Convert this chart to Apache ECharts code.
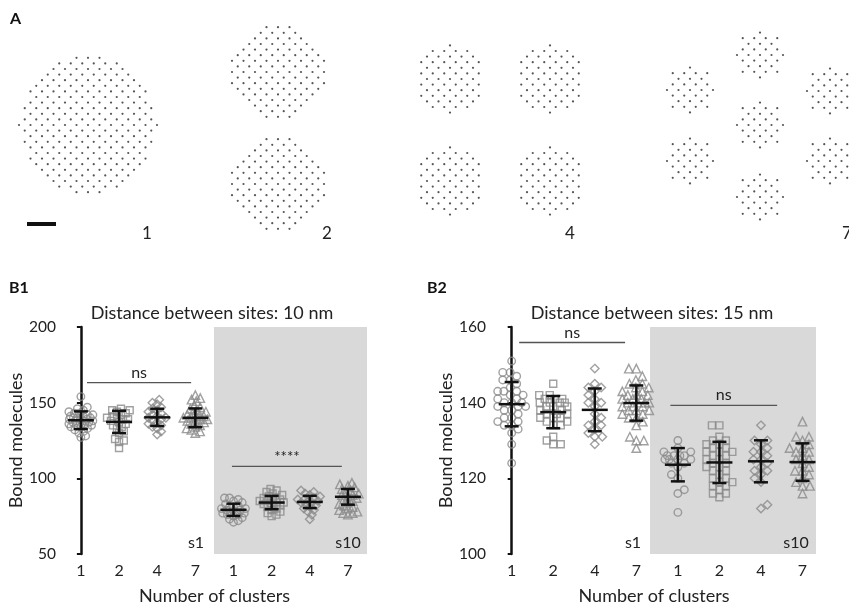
<!DOCTYPE html>
<html><head><meta charset="utf-8">
<script src="https://cdn.jsdelivr.net/npm/echarts@6/dist/echarts.min.js"></script>
<style>html,body{margin:0;padding:0;background:#fff}#c{width:849px;height:606px}</style>
</head><body><div id="c"></div>
<script>
// ---------- data ----------
const CAT_LABELS = ['1', '2', '4', '7', '1', '2', '4', '7'];
const B1_Y_TICKS = [50, 100, 150, 200];
const B2_Y_TICKS = [100, 120, 140, 160];

// B1 : distance 10 nm  (s1 groups, then s10 groups; clusters 1,2,4,7)
const B1_S1_C1 = [154,147,146,145,144,143,143,142,142,141,141,140,140,140,139,139,139,138,138,138,137,137,137,136,136,135,135,134,134,133,132,131,130,128,127];
const B1_S1_C2 = [146,145,145,144,143,142,141,140,140,139,139,138,137,136,135,134,133,131,130,126,125,124,120];
const B1_S1_C4 = [152,150,149,147,146,145,144,143,142,141,140,140,139,138,137,136,135,134,133,131,129];
const B1_S1_C7 = [155,153,152,151,148,147,146,145,144,143,142,142,141,141,140,140,139,139,138,138,137,136,135,134,133,132,131,130];
const B1_S10_C1 = [87,87,86,85,84,83,82,81,81,80,80,79,79,78,78,77,77,76,76,75,74,73,72,71];
const B1_S10_C2 = [93,92,91,90,89,88,87,87,86,86,85,85,84,84,83,83,82,81,80,79,78,77,76,75];
const B1_S10_C4 = [92,91,90,89,88,87,86,86,85,85,84,84,83,82,81,80,79,78,76,73];
const B1_S10_C7 = [97,96,95,94,93,92,91,90,89,89,88,87,86,85,84,83,82,81,80,79,78,77,77,76];
const B1_MEAN = [138.4, 137.3, 140.3, 140.0, 79.2, 84.0, 84.4, 87.8];
const B1_SD   = [5.85, 7.35, 5.7, 6.2, 4.05, 4.4, 4.05, 5.2];
const B1_SIG  = [[0.16, 2.89, 163.2, 'ns'], [3.96, 6.84, 107.9, '****']];

// B2 : distance 15 nm
const B2_S1_C1 = [151,148,148,147,146,146,145,144,143,143,143,142,142,141,141,140,140,140,139,139,139,138,138,137,136,136,135,135,134,134,133,132,129,124];
const B2_S1_C2 = [145,142,142,141,141,141,140,140,140,140,139,139,139,138,138,137,137,137,136,136,136,135,135,134,134,131,130,129,129];
const B2_S1_C4 = [149,145,144,144,143,142,141,140,140,139,137,136,135,134,134,133,132,131,131,129];
const B2_S1_C7 = [149,149,147,146,145,145,144,144,143,143,142,142,142,141,141,141,140,140,140,140,139,139,139,138,138,138,137,137,136,136,135,134,131,130,130,128];
const B2_S10_C1 = [130,128,127,127,126,126,126,126,125,125,125,125,124,124,123,121,120,117,116,111];
const B2_S10_C2 = [134,134,131,130,130,129,129,128,128,127,127,127,126,126,125,125,124,124,123,123,122,122,121,120,120,119,119,118,118,117,116,116,115];
const B2_S10_C4 = [134,130,130,129,128,127,127,126,125,125,124,123,122,122,121,120,119,113,112];
const B2_S10_C7 = [135,131,131,130,129,128,128,127,127,126,125,125,124,123,122,122,121,120,119,118,118,116];
const B2_MEAN = [139.6, 137.5, 138.1, 139.9, 123.6, 124.2, 124.5, 124.3];
const B2_SD   = [5.85, 4.25, 5.65, 4.65, 4.4, 5.45, 5.55, 4.95];
const B2_SIG  = [[0.18, 2.73, 155.9, 'ns'], [3.82, 6.39, 139.3, 'ns']];

// ---------- layout (panel A cluster geometry) ----------
const A_CLUSTERS = [
  [88,125,69],
  [278,72,48],[278,184,48],
  [450,79,34],[550,79,34],[450,181,34],[550,181,34],
  [690,90,25],[690,161,25],[760,55,25],[760,125,25],[760,197,25],[830,91,25],[830,161,25]
];
const LAT_DX = 11.5, LAT_DY = 5.6;

function latticeDots() {
  const pts = [];
  A_CLUSTERS.forEach(([cx, cy, r]) => {
    const nr = Math.ceil(r / LAT_DY) + 1, nc = Math.ceil(r / LAT_DX) + 2;
    for (let j = -nr; j <= nr; j++) {
      const y = cy + j * LAT_DY;
      const off = (Math.abs(j) % 2) ? LAT_DX / 2 : 0;
      for (let k = -nc; k <= nc; k++) {
        const x = cx + off + k * LAT_DX;
        if ((x - cx) * (x - cx) + (y - cy) * (y - cy) <= r * r) pts.push([x, y]);
      }
    }
  });
  return pts;
}

// beeswarm layout with a maximum half-width (x offsets in category units)
function swarm(values, pxX, pxY, D, maxHalf) {
  const idx = values.map((v, i) => i).sort((a, b) => values[a] - values[b]);
  const placed = [], off = new Array(values.length);
  let side = 1;
  idx.forEach(i => {
    const y = values[i] * pxY;
    const cands = [0];
    placed.forEach(p => {
      const dy = Math.abs(p.y - y);
      if (dy < D) { const dx = Math.sqrt(D * D - dy * dy); cands.push(p.x + dx, p.x - dx); }
    });
    cands.sort((a, b) => (Math.abs(a) - Math.abs(b)) || side * (b - a));
    let chosen = null;
    for (const c of cands) {
      if (Math.abs(c) > maxHalf) break;
      if (placed.every(p => (p.x - c) * (p.x - c) + (p.y - y) * (p.y - y) >= D * D - 1e-6)) { chosen = c; break; }
    }
    if (chosen === null) {
      let best = 0, bestD = -1;
      for (let c = -maxHalf; c <= maxHalf + 1e-9; c += 0.5) {
        let md = Infinity;
        placed.forEach(p => { const d = (p.x - c) * (p.x - c) + (p.y - y) * (p.y - y); if (d < md) md = d; });
        if (md > bestD + 1e-6 || (Math.abs(md - bestD) < 1e-6 && Math.abs(c) < Math.abs(best))) { bestD = md; best = c; }
      }
      chosen = best;
    }
    if (chosen !== 0) side = -Math.sign(chosen);
    placed.push({ x: chosen, y });
    off[i] = chosen / pxX;
  });
  return off;
}

function groupPoints(values, xi, L) {
  const o = swarm(values, L.pxX, L.pxY, L.D, L.half);
  return values.map((v, i) => [xi + o[i], v]);
}

const FONT = 'Lato, "Noto Sans", sans-serif';
const GRAY = '#8a8a8a';
const SHAPES = ['circle', 'rect', 'diamond', 'triangle'];
const SIZES = [7.5, 7, 8.5, 8.5];

function panelSeries(ax, groupsS1, groupsS10, means, sds, sig, yMin, yMax, boxX0, boxX1, L) {
  const out = [];
  out.push({
    type: 'custom', xAxisIndex: ax, yAxisIndex: ax, z: 1, silent: true,
    data: [[boxX0, boxX1, yMin, yMax]],
    renderItem: (p, api) => {
      const a = api.coord([api.value(0), api.value(3)]);
      const b = api.coord([api.value(1), api.value(2)]);
      return { type: 'rect', shape: { x: a[0], y: a[1], width: b[0] - a[0], height: b[1] - a[1] }, style: { fill: '#d9d9d9' } };
    }
  });
  for (let s = 0; s < 4; s++) {
    const data = groupPoints(groupsS1[s], s, L).concat(groupPoints(groupsS10[s], s + 4, L));
    out.push({
      type: 'scatter', xAxisIndex: ax, yAxisIndex: ax, z: 2, silent: true,
      symbol: SHAPES[s], symbolSize: SIZES[s], data,
      itemStyle: { color: 'rgba(0,0,0,0)', borderColor: GRAY, borderWidth: 1.4 }
    });
  }
  out.push({
    type: 'custom', xAxisIndex: ax, yAxisIndex: ax, z: 4, silent: true,
    data: means.map((m, i) => [i, m, sds[i]]),
    renderItem: (p, api) => {
      const x = api.value(0), m = api.value(1), sd = api.value(2);
      const c = api.coord([x, m]), t = api.coord([x, m + sd]), b = api.coord([x, m - sd]);
      const st = { stroke: '#111', lineWidth: 2.5 };
      return { type: 'group', children: [
        { type: 'line', shape: { x1: c[0] - 13, y1: c[1], x2: c[0] + 13, y2: c[1] }, style: st },
        { type: 'line', shape: { x1: c[0], y1: t[1], x2: c[0], y2: b[1] }, style: st },
        { type: 'line', shape: { x1: c[0] - 7, y1: t[1], x2: c[0] + 7, y2: t[1] }, style: st },
        { type: 'line', shape: { x1: c[0] - 7, y1: b[1], x2: c[0] + 7, y2: b[1] }, style: st }
      ] };
    }
  });
  out.push({
    type: 'custom', xAxisIndex: ax, yAxisIndex: ax, z: 4, silent: true,
    data: sig.map((s, i) => [s[0], s[1], s[2], i]),
    renderItem: (p, api) => {
      const a = api.coord([api.value(0), api.value(2)]), b = api.coord([api.value(1), api.value(2)]);
      const t = sig[api.value(3)][3];
      return { type: 'group', children: [
        { type: 'line', shape: { x1: a[0], y1: a[1], x2: b[0], y2: b[1] }, style: { stroke: '#555', lineWidth: 1.3 } },
        { type: 'text', style: { text: t, x: (a[0] + b[0]) / 2, y: a[1] - 2, align: 'center', verticalAlign: 'bottom',
          font: (t === 'ns' ? '16px ' : '15px ') + FONT, fill: '#222' } }
      ] };
    }
  });
  return out;
}

function catXAxis(grid, min, max) {
  return {
    gridIndex: grid, type: 'value', min, max,
    axisLine: { show: false }, axisTick: { show: false }, splitLine: { show: false },
    axisLabel: { customValues: [0, 1, 2, 3, 4, 5, 6, 7], formatter: v => CAT_LABELS[Math.round(v)],
      fontSize: 16, color: '#222', fontFamily: FONT, margin: 9 },
    name: 'Number of clusters', nameLocation: 'middle', nameGap: 33,
    nameTextStyle: { fontSize: 18, color: '#222', fontFamily: FONT }
  };
}
function valYAxis(grid, ticks) {
  return {
    gridIndex: grid, type: 'value', min: ticks[0], max: ticks[ticks.length - 1], interval: ticks[1] - ticks[0],
    axisLine: { show: true, lineStyle: { color: '#111', width: 2.5 } },
    axisTick: { show: true, length: 4, lineStyle: { color: '#111', width: 2 } },
    splitLine: { show: false },
    axisLabel: { fontSize: 15.5, color: '#222', fontFamily: FONT, margin: 6 },
    name: 'Bound molecules', nameLocation: 'middle', nameGap: 37,
    nameTextStyle: { fontSize: 18, color: '#222', fontFamily: FONT }
  };
}

const chart = echarts.init(document.getElementById('c'), null, { renderer: 'canvas' });

const txt = (x, y, text, size, weight) => ({
  type: 'text', x, y, z: 100, silent: true,
  style: { text, font: (weight ? weight + ' ' : '') + size + 'px ' + FONT, fill: '#222', align: 'center', verticalAlign: 'middle' }
});
const lbl = (x, y, text) => ({
  type: 'text', x, y, z: 100, silent: true,
  style: { text, font: 'bold 16px ' + FONT, fill: '#111', align: 'left', verticalAlign: 'middle' }
});

const option = {
  animation: false,
  backgroundColor: '#fff',
  grid: [
    { left: 0, top: 0, width: 849, height: 606 },
    { left: 62, top: 327, width: 305, height: 228 },
    { left: 492, top: 327, width: 324, height: 229 }
  ],
  xAxis: [
    { gridIndex: 0, type: 'value', min: 0, max: 849, show: false },
    catXAxis(1, -0.495, 7.5),
    catXAxis(2, -0.474, 7.325)
  ],
  yAxis: [
    { gridIndex: 0, type: 'value', min: 0, max: 606, inverse: true, show: false },
    valYAxis(1, B1_Y_TICKS),
    valYAxis(2, B2_Y_TICKS)
  ],
  graphic: [
    lbl(10, 19, 'A'), lbl(9, 288, 'B1'), lbl(427, 288, 'B2'),
    txt(212, 313, 'Distance between sites: 10 nm', 18),
    txt(652, 313, 'Distance between sites: 15 nm', 18),
    txt(147, 234, '1', 17), txt(327, 234, '2', 17), txt(570, 234, '4', 17), txt(847, 234, '7', 17),
    txt(196, 543, 's1', 16), txt(348, 543, 's10', 16),
    txt(633, 543, 's1', 16), txt(796, 543, 's10', 16),
    { type: 'line', z: 100, silent: true, shape: { x1: 27, y1: 224, x2: 56, y2: 224 }, style: { stroke: '#111', lineWidth: 4 } }
  ],
  series: [
    { type: 'scatter', xAxisIndex: 0, yAxisIndex: 0, silent: true, symbol: 'circle', symbolSize: 2.2,
      itemStyle: { color: '#2b2b2b' }, data: latticeDots() }
  ].concat(
    panelSeries(1, [B1_S1_C1, B1_S1_C2, B1_S1_C4, B1_S1_C7], [B1_S10_C1, B1_S10_C2, B1_S10_C4, B1_S10_C7],
      B1_MEAN, B1_SD, B1_SIG, 50, 200, 3.49, 7.5, { pxX: 38.15, pxY: 1.52, D: 5, half: 12 }),
    panelSeries(2, [B2_S1_C1, B2_S1_C2, B2_S1_C4, B2_S1_C7], [B2_S10_C1, B2_S10_C2, B2_S10_C4, B2_S10_C7],
      B2_MEAN, B2_SD, B2_SIG, 100, 160, 3.33, 7.325, { pxX: 41.54, pxY: 3.817, D: 7.5, half: 14 })
  )
};
chart.setOption(option);
</script></body></html>
